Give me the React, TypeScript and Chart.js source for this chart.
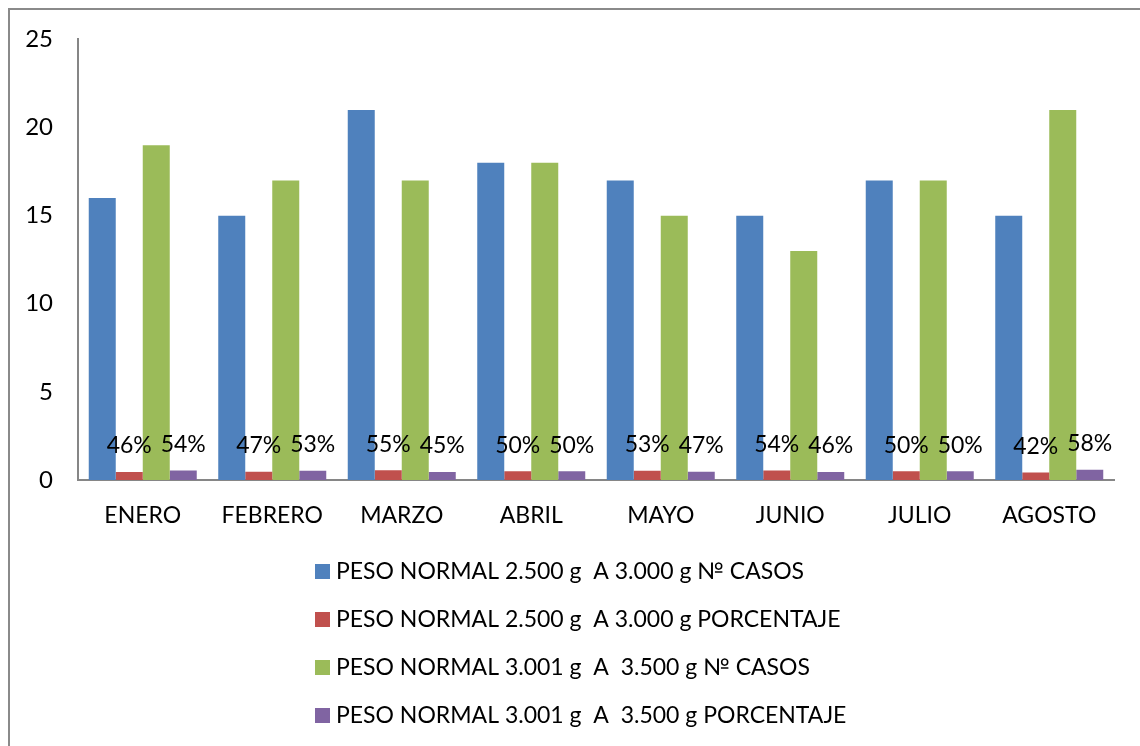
import React, { useEffect, useRef } from "react";
import { Chart, registerables } from "chart.js";

Chart.register(...registerables);

const categories = ["ENERO", "FEBRERO", "MARZO", "ABRIL", "MAYO", "JUNIO", "JULIO", "AGOSTO"];
const casos2500 = [16, 15, 21, 18, 17, 15, 17, 15];
const pct2500 = [0.46, 0.47, 0.55, 0.5, 0.53, 0.54, 0.5, 0.42];
const casos3001 = [19, 17, 17, 18, 15, 13, 17, 21];
const pct3001 = [0.54, 0.53, 0.45, 0.5, 0.47, 0.46, 0.5, 0.58];
const seriesNames = [
  "PESO NORMAL 2.500 g  A 3.000 g № CASOS",
  "PESO NORMAL 2.500 g  A 3.000 g PORCENTAJE",
  "PESO NORMAL 3.001 g  A  3.500 g № CASOS",
  "PESO NORMAL 3.001 g  A  3.500 g PORCENTAJE",
];
const seriesColors = ["#4F81BD", "#C0504D", "#9BBB59", "#8064A2"];
const yTicks = [0, 5, 10, 15, 20, 25];

const FONT = "Lato, Carlito, Calibri, sans-serif";
const FS = 23;

const framePlugin = {
  id: "frame",
  beforeDraw(chart: any) {
    const ctx = chart.ctx;
    ctx.save();
    ctx.fillStyle = "#ffffff";
    ctx.fillRect(0, 0, chart.width, chart.height);
    ctx.strokeStyle = "#8a8a8a";
    ctx.lineWidth = 2;
    ctx.strokeRect(9, 9, chart.width + 40, chart.height + 40);
    ctx.restore();
  },
};

const pctLabelPlugin = {
  id: "pctLabels",
  afterDatasetsDraw(chart: any) {
    const ctx = chart.ctx;
    ctx.save();
    ctx.font = `${FS}px ${FONT}`;
    ctx.fillStyle = "#000";
    ctx.textAlign = "center";
    ctx.textBaseline = "middle";
    [1, 3].forEach((di) => {
      const meta = chart.getDatasetMeta(di);
      const vals = chart.data.datasets[di].data as number[];
      meta.data.forEach((el: any, i: number) => {
        ctx.fillText(Math.round(vals[i] * 100) + "%", el.x, el.y - 26);
      });
    });
    ctx.restore();
  },
};

const legendPlugin = {
  id: "customLegend",
  afterDraw(chart: any) {
    const ctx = chart.ctx;
    ctx.save();
    ctx.font = `${FS}px ${FONT}`;
    ctx.textAlign = "left";
    ctx.textBaseline = "middle";
    chart.data.datasets.forEach((ds: any, i: number) => {
      const cy = 571.5 + i * 48;
      ctx.fillStyle = ds.backgroundColor;
      ctx.fillRect(315, cy - 7.5, 15, 15);
      ctx.fillStyle = "#000";
      ctx.fillText(ds.label, 336, cy);
    });
    ctx.restore();
  },
};

export default function App() {
  const ref = useRef<HTMLCanvasElement | null>(null);
  useEffect(() => {
    if (!ref.current) return;
    Chart.defaults.font.family = FONT;
    Chart.defaults.color = "#000";
    const chart = new Chart(ref.current, {
      type: "bar",
      data: {
        labels: categories,
        datasets: [casos2500, pct2500, casos3001, pct3001].map((d, i) => ({
          label: seriesNames[i],
          data: d,
          backgroundColor: seriesColors[i],
          barPercentage: 1,
          categoryPercentage: 0.834,
        })),
      },
      options: {
        responsive: false,
        animation: false,
        devicePixelRatio: 1,
        layout: { padding: { left: 8, top: 38, right: 26, bottom: 206 } },
        plugins: { legend: { display: false }, tooltip: { enabled: false } },
        scales: {
          x: {
            grid: { display: false, drawTicks: false },
            border: { display: true, color: "#868686", width: 2 },
            ticks: { font: { size: FS, family: FONT }, color: "#000", padding: 22 },
            afterFit: (s: any) => {
              s.height = 60;
            },
          },
          y: {
            min: 0,
            max: 25,
            grid: { display: false, drawTicks: false },
            border: { display: true, color: "#868686", width: 2 },
            afterBuildTicks: (s: any) => {
              s.ticks = yTicks.map((v) => ({ value: v }));
            },
            ticks: { font: { size: 24, family: FONT }, color: "#000", padding: 25 },
            afterFit: (s: any) => {
              s.width = 70;
            },
          },
        },
      },
      plugins: [framePlugin, pctLabelPlugin, legendPlugin],
    });
    return () => chart.destroy();
  }, []);
  return (
    <div style={{ position: "absolute", left: 0, top: 0, width: 1140, height: 746 }}>
      <canvas ref={ref} width={1140} height={746} style={{ display: "block", width: 1140, height: 746 }} />
    </div>
  );
}
